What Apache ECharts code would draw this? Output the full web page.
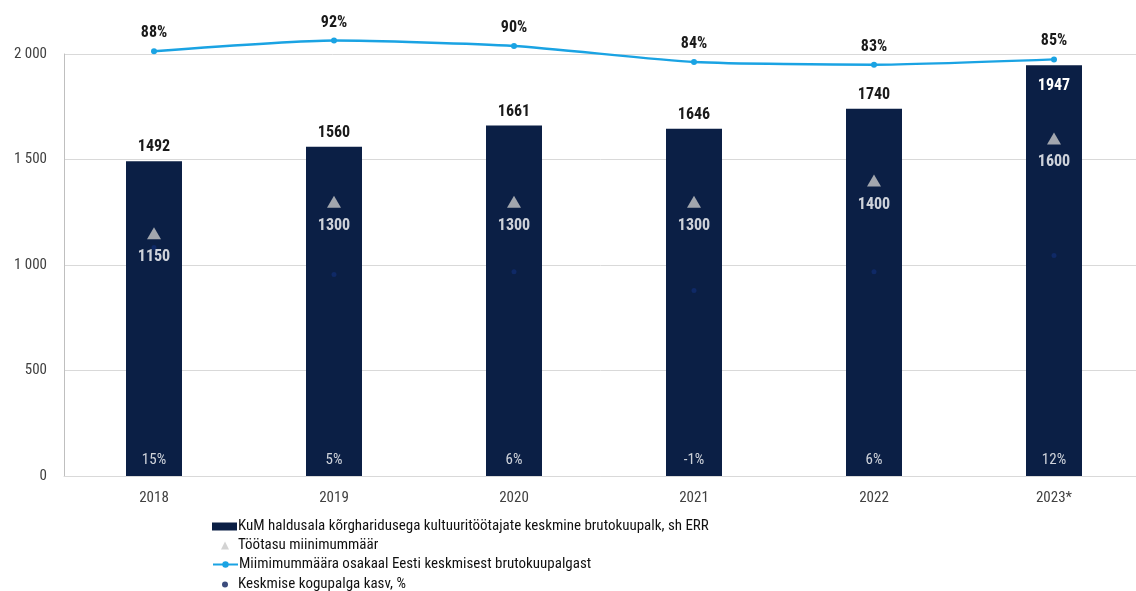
<!DOCTYPE html>
<html>
<head>
<meta charset="utf-8">
<script src="https://cdn.jsdelivr.net/npm/echarts@6/dist/echarts.min.js"></script>
<style>
  html, body { margin: 0; padding: 0; background: #fff; }
  #main { width: 1136px; height: 591px; }
</style>
</head>
<body>
<div id="main"></div>
<script>
// andmed
const years = ["2018", "2019", "2020", "2021", "2022", "2023*"];
const avgWage = [1492, 1560, 1661, 1646, 1740, 1947];
const minWage = [1150, 1300, 1300, 1300, 1400, 1600];
const minShare = [88, 92, 90, 84, 83, 85];
const wageGrowth = [15, 5, 6, -1, 6, 12];
const names = [
  "KuM haldusala kõrgharidusega kultuuritöötajate keskmine brutokuupalk, sh ERR",
  "Töötasu miinimummäär",
  "Miimimummäära osakaal Eesti keskmisest brutokuupalgast",
  "Keskmise kogupalga kasv, %"
];

const font = "'Roboto Condensed', 'Liberation Sans Narrow', Roboto, sans-serif";
const navy = "#0b1f45";

let myChart = echarts.init(document.getElementById("main"));

// viimase tulba silt on tulba sees
const barData = avgWage.map((v, i) =>
  i === avgWage.length - 1
    ? { value: v, label: { position: "insideTop", color: "#fff", distance: 13 } }
    : v
);

// legendi ühine stiil
const legendBase = {
  orient: "vertical",
  left: 212,
  padding: 0,
  itemWidth: 25,
  itemHeight: 8,
  itemGap: 4,
  textStyle: { fontSize: 15, color: "#111", fontFamily: font, padding: [0, 0, 0, -4] }
};

myChart.setOption({
  animation: false,
  textStyle: { fontFamily: font },
  grid: { left: 64, width: 1080, top: 54, bottom: 115, outerBoundsMode: "none" },
  legend: [
    Object.assign({}, legendBase, { top: 519, data: [{ name: names[0], icon: "rect" }] }),
    Object.assign({}, legendBase, {
      top: 538,
      left: 221,
      itemWidth: 8,
      textStyle: { fontSize: 15, color: "#111", fontFamily: font, padding: [0, 0, 0, 4] },
      data: [{ name: names[1], icon: "triangle" }]
    }),
    Object.assign({}, legendBase, {
      top: 557,
      data: [{ name: names[2] }]
    }),
    Object.assign({}, legendBase, {
      top: 577,
      left: 222,
      itemWidth: 6,
      itemHeight: 6,
      textStyle: { fontSize: 15, color: "#111", fontFamily: font, padding: [0, 0, 0, 5] },
      data: [{ name: names[3], icon: "circle", itemStyle: { color: "#0b1f5c" } }]
    })
  ],
  xAxis: {
    type: "category",
    data: years,
    axisTick: { show: false },
    axisLine: { lineStyle: { color: "#d9d9d9" } },
    axisLabel: { color: "#404040", fontSize: 15, margin: 15, fontFamily: font }
  },
  yAxis: [
    {
      type: "value",
      min: 0,
      max: 2000,
      interval: 500,
      axisLine: { show: true, lineStyle: { color: "#bfbfbf" } },
      splitLine: { lineStyle: { color: "#d9d9d9" } },
      axisLabel: {
        color: "#404040",
        fontSize: 15,
        margin: 17,
        fontFamily: font,
        formatter: v => String(v).replace(/\B(?=(\d{3})+(?!\d))/g, " ")
      }
    },
    // peidetud telg protsentidele
    { type: "value", min: -70, max: 87, show: false }
  ],
  series: [
    {
      name: names[0],
      type: "bar",
      data: barData,
      barWidth: 56,
      itemStyle: { color: navy },
      label: {
        show: true,
        position: "top",
        distance: 6,
        color: "#1a1a1a",
        fontSize: 16,
        fontWeight: "bold",
        fontFamily: font
      }
    },
    {
      name: names[1],
      type: "scatter",
      data: minWage,
      symbol: "triangle",
      symbolSize: [14, 12],
      itemStyle: { color: "#c8c8c8" },
      z: 3,
      label: {
        show: true,
        position: "bottom",
        distance: 10,
        color: "#fff",
        fontSize: 16,
        fontWeight: "bold",
        fontFamily: font
      }
    },
    {
      name: names[2],
      type: "line",
      yAxisIndex: 1,
      data: minShare,
      smooth: 0.2,
      clip: false,
      symbol: "circle",
      symbolSize: 6,
      itemStyle: { color: "#1aa3e3" },
      lineStyle: { color: "#1aa3e3", width: 2.5 },
      z: 4,
      label: {
        show: true,
        position: "top",
        distance: 7,
        color: "#1a1a1a",
        fontSize: 16,
        fontWeight: "bold",
        fontFamily: font,
        formatter: "{c}%"
      }
    },
    {
      name: names[3],
      type: "scatter",
      yAxisIndex: 1,
      data: wageGrowth,
      symbol: "circle",
      symbolSize: 5,
      itemStyle: { color: "#102c6e" },
      z: 3,
      label: {
        show: true,
        position: "inside",
        color: "#fff",
        fontSize: 15,
        fontFamily: font,
        formatter: "{c}%"
      },
      // kasvu sildid tulba alaosas
      labelLayout: p => ({
        x: p.rect.x + p.rect.width / 2,
        y: myChart.convertToPixel({ yAxisIndex: 0 }, 0) - 16,
        align: "center",
        verticalAlign: "middle"
      })
    }
  ]
});
</script>
</body>
</html>
